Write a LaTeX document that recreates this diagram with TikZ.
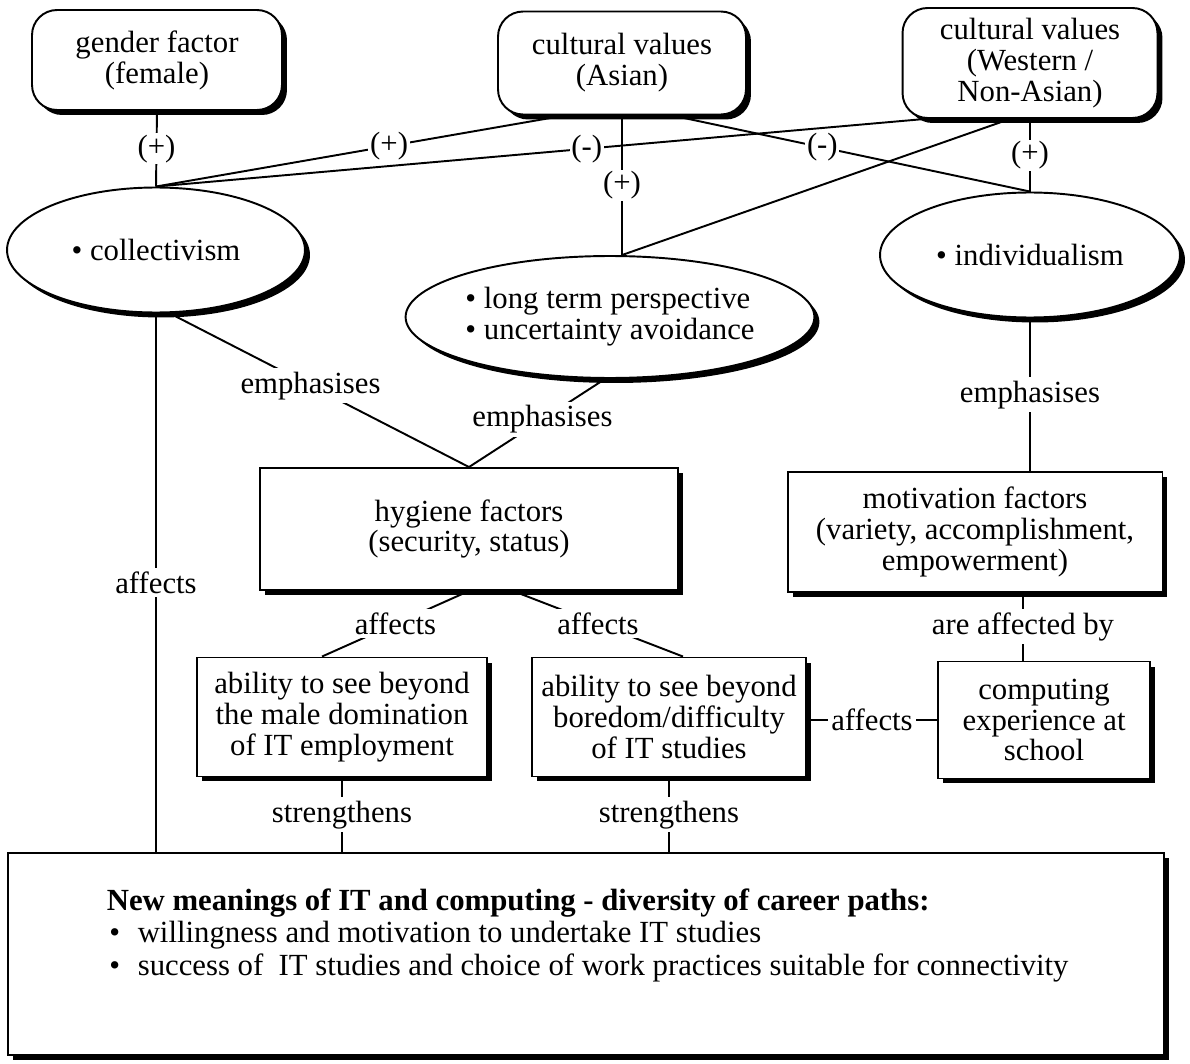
\documentclass[tikz,border=0pt]{standalone}
\usepackage{fontspec}
\setmainfont{Liberation Serif}
\usetikzlibrary{shapes.geometric,shadows}

\begin{document}
\begin{tikzpicture}[x=0.02cm,y=-0.02cm,line width=1.1pt,
            every node/.style={font=\fontsize{17.5}{17.6}\selectfont},
            shadowed/.style={draw,fill=white,drop shadow={shadow xshift=0.1cm,shadow yshift=-0.1cm,opacity=1,fill=black}},
            valuebox/.style={shadowed,rounded corners=0.5cm,align=center,inner sep=2pt},
            dimension/.style={shadowed,ellipse,align=center,inner sep=0pt},
            factorbox/.style={shadowed,rectangle,align=center,inner sep=2pt},
            sign/.style={fill=white,inner sep=1pt},
            verb/.style={fill=white,inner sep=2pt}]
            \useasboundingbox (0,0) rectangle (1190,1064);
            % cultural values and gender
            \node[valuebox,minimum width=5cm,minimum height=2cm] (gender) at (157,60) {gender factor\\(female)};
            \node[valuebox,minimum width=4.96cm,minimum height=2.06cm] (asian) at (622,63) {cultural values\\(Asian)};
            \node[valuebox,minimum width=5.1cm,minimum height=2.2cm] (western) at (1030,63) {cultural values\\(Western /\\Non-Asian)};
            % dimensions
            \node[dimension,minimum width=5.96cm,minimum height=2.5cm] (coll) at (156,250) {\textbullet\ collectivism};
            \node[dimension,minimum width=8.1cm,minimum height=2.44cm,align=left] (long) at (610,317) {\textbullet\ long term perspective\\\textbullet\ uncertainty avoidance};
            \node[dimension,minimum width=6cm,minimum height=2.5cm] (indiv) at (1030,255) {\textbullet\ individualism};
            % factors
            \node[factorbox,minimum width=8.36cm,minimum height=2.44cm] (hyg) at (469,529) {hygiene factors\\(security, status)};
            \node[factorbox,minimum width=7.5cm,minimum height=2.4cm] (motiv) at (975,532) {motivation factors\\(variety, accomplishment,\\empowerment)};
            \node[factorbox,minimum width=5.8cm,minimum height=2.38cm] (male) at (342,717) {ability to see beyond\\the male domination\\of IT employment};
            \node[factorbox,minimum width=5.48cm,minimum height=2.38cm] (boredom) at (669,717) {ability to see beyond\\boredom/difficulty\\of IT studies};
            \node[factorbox,minimum width=4.24cm,minimum height=2.34cm] (school) at (1044,720) {computing\\experience at\\school};
            \node[factorbox,minimum width=23.14cm,minimum height=4.04cm] (meanings) at (586,954) {};
            \node[anchor=west,align=left,font=\fontsize{17.5}{18.5}\selectfont] (meantext) at (100,935) {\textbf{New meanings of IT and computing - diversity of career paths:}\\
                \makebox[0.62cm][l]{\hspace*{0.05cm}\textbullet}willingness and motivation to undertake IT studies\\
                \makebox[0.62cm][l]{\hspace*{0.05cm}\textbullet}success of \ IT studies and choice of work practices suitable for connectivity};
            % influences
            \draw (gender.south) -- node[sign]{(+)} (coll.north);
            \draw ([xshift=-1.14cm]asian.south) -- node[sign,pos=0.43]{(+)} (coll.north);
            \draw ([xshift=-2.1cm]western.south) -- node[sign,pos=0.44]{(-)} (coll.north);
            \draw (asian.south) -- node[sign]{(+)} (asian.south |- long.north);
            \draw ([xshift=1cm]asian.south) -- node[sign,pos=0.42]{(-)} (indiv.north);
            \draw ([xshift=-0.4cm]western.south) -- (asian.south |- long.north);
            \draw (western.south) -- node[sign]{(+)} (indiv.north);
            \draw ([xshift=0.28cm]coll.south) -- node[verb,pos=0.47]{emphasises} (hyg.north);
            \draw ([xshift=-0.1cm]long.south) -- node[verb,pos=0.46]{emphasises} (hyg.north);
            \draw (coll.south) -- node[verb]{affects} (coll.south |- meanings.north);
            \draw (indiv.south) -- node[verb]{emphasises} (indiv.south |- motiv.north);
            \draw (hyg.south) -- node[verb]{affects} ([xshift=-0.4cm]male.north);
            \draw ([xshift=0.88cm]hyg.south) -- node[verb]{affects} ([xshift=0.28cm]boredom.north);
            \draw ([xshift=-0.42cm]school.north |- motiv.south) -- node[verb]{are affected by} ([xshift=-0.42cm]school.north);
            \draw (school.west) -- node[verb]{affects} (school.west -| boredom.east);
            \draw (male.south) -- node[verb]{strengthens} (male.south |- meanings.north);
            \draw (boredom.south) -- node[verb]{strengthens} (boredom.south |- meanings.north);
\end{tikzpicture}
\end{document}
